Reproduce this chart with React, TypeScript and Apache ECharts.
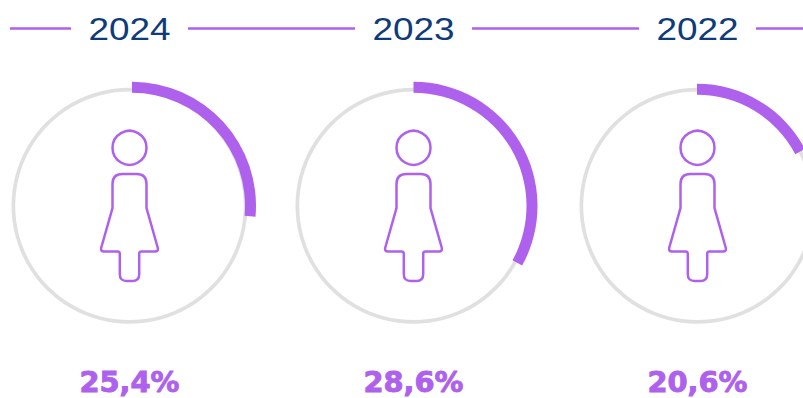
import React, { useEffect, useRef } from "react";
import * as echarts from "echarts";

const years = ["2024", "2023", "2022"];
const labels = ["25,4%", "28,6%", "20,6%"];
// Share of the ring covered by the purple arc.
const arcShares = [26.4, 33.0, 17.3];

const PURPLE = "#AE61EC";
const NAVY = "#0F3B78";
const GREY = "#E0E0E0";
const W = 803;
const H = 398;
const centersX = [129.5, 413.5, 697.5];
const arcCentersX = [132, 413.5, 697];
const arcOuter = [124, 124, 122];
const CY = 205.8;

const PERSON =
  "M-7 0 L7 0 Q17 0 17 10 L17 34 L28.2 73.5 Q29.2 77.5 25.5 77.5 L12 77.5 Q9.7 77.5 9.7 80 L9.7 100 Q9.7 107 3 107 L-3 107 Q-9.7 107 -9.7 100 L-9.7 80 Q-9.7 77.5 -12 77.5 L-25.5 77.5 Q-29.2 77.5 -28.2 73.5 L-17 34 L-17 10 Q-17 0 -7 0 Z";
echarts.graphic.registerShape("person", echarts.graphic.extendPath(PERSON, {}));

export default function App() {
  const ref = useRef<HTMLDivElement>(null);
  useEffect(() => {
    const chart = echarts.init(ref.current!, undefined, { renderer: "svg" });
    const base = { type: "pie", silent: true, label: { show: false }, labelLine: { show: false }, emphasis: { disabled: true }, startAngle: 90, clockwise: true };
    const series: any[] = [];
    years.forEach((_, i) => {
      series.push({ ...base, center: [centersX[i], CY], radius: [114.3, 118], data: [{ value: 1, itemStyle: { color: GREY } }] });
      series.push({
        ...base,
        center: [arcCentersX[i], CY],
        radius: [arcOuter[i] - 11, arcOuter[i]],
        data: [
          { value: arcShares[i], itemStyle: { color: PURPLE } },
          { value: 100 - arcShares[i], itemStyle: { color: "transparent" } },
        ],
      });
    });
    const lineSegs = [[10, 71], [188, 355], [472, 639], [756, 803]];
    const graphic: any[] = [];
    lineSegs.forEach(([a, b]) =>
      graphic.push({ type: "line", shape: { x1: a, y1: 28.5, x2: b, y2: 28.5 }, style: { stroke: PURPLE, lineWidth: 2.5 } })
    );
    years.forEach((y, i) => {
      const cx = centersX[i];
      graphic.push({
        type: "text", x: cx, y: 29, scaleX: 1.19,
        style: { text: y, fill: NAVY, font: '31px "Liberation Sans"', textAlign: "center", textVerticalAlign: "middle" },
      });
      graphic.push({ type: "circle", shape: { cx, cy: 147.8, r: 17 }, style: { fill: "none", stroke: PURPLE, lineWidth: 2.5 } });
      graphic.push({ type: "person", x: cx, y: 174, style: { fill: "none", stroke: PURPLE, lineWidth: 2.5 } });
      graphic.push({
        type: "text", x: cx, y: 383, scaleX: 1.03,
        style: { text: labels[i], fill: PURPLE, stroke: PURPLE, lineWidth: 0.9, font: 'bold 28px "DejaVu Sans"', textAlign: "center", textVerticalAlign: "middle" },
      });
    });
    chart.setOption({ animation: false, series, graphic });
    return () => chart.dispose();
  }, []);
  return <div ref={ref} style={{ position: "fixed", left: 0, top: 0, width: W, height: H, background: "#fff" }} />;
}
